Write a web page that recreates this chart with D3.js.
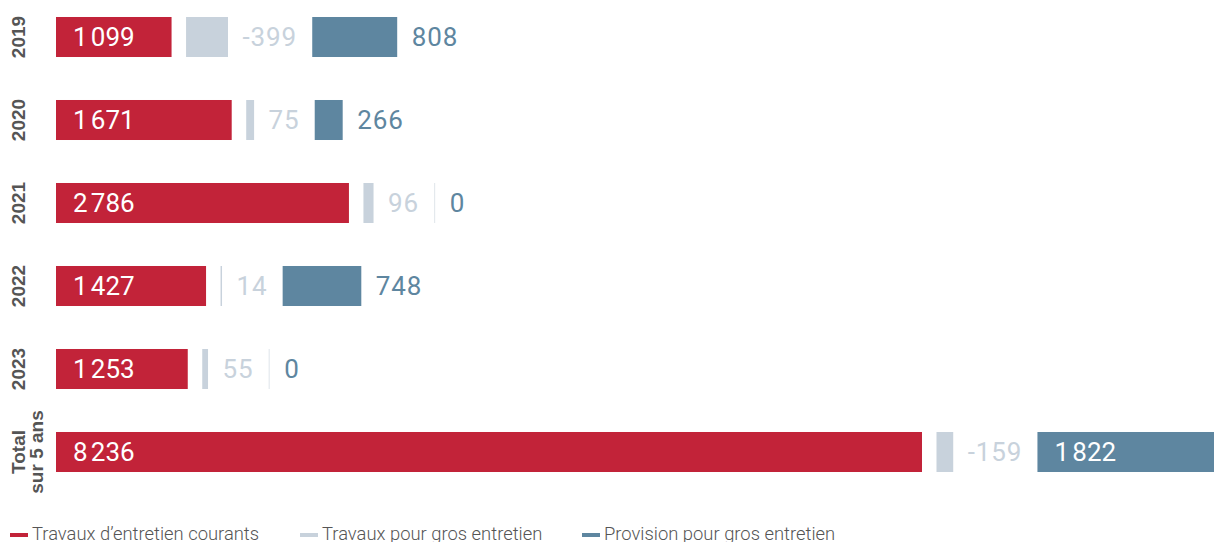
<!DOCTYPE html>
<html><head><meta charset="utf-8">
<script src="https://cdn.jsdelivr.net/npm/d3@7"></script>
<style>
html,body{margin:0;padding:0;background:#fff;overflow:hidden;}
svg{display:block;}
</style></head>
<body><svg id="c" width="1214" height="542"></svg>
<script>
const categories = ["2019","2020","2021","2022","2023","Total|sur 5 ans"];
const courants = [1099,1671,2786,1427,1253,8236];
const grosTravaux = [-399,75,96,14,55,-159];
const provision = [808,266,0,748,0,1822];
const seriesNames = ["Travaux d\u2019entretien courants","Travaux pour gros entretien","Provision pour gros entretien"];
const colors = ["#c22339","#c8d2dc","#5e86a0"];
const labelColors = ["#ffffff","#c8d2dc","#5e86a0"];

const W = 1214, H = 542;
const svg = d3.select("#c");
const loc = d3.formatLocale({decimal:",", thousands:"\u202f", grouping:[3], currency:["","€"], minus:"-"});
const fmt = loc.format(",d");

const x0 = 56;
const x = d3.scaleLinear().domain([0, 8236]).range([0, 866]);
const y = d3.scaleBand().domain(categories).range([-4.5, -4.5 + 6*83]).paddingInner(0.518).paddingOuter(0.259);
const bw = y.bandwidth();
const gap = 14.5;
const gapAfterText = 16;
const valFont = "Roboto, sans-serif";
const valSize = 26;
const ls = 0.9;

function valText(g, xx, cy, txt, col) {
  return g.append("text").attr("x", xx).attr("y", cy).attr("dy", "0.36em")
    .attr("font-family", valFont).attr("font-size", valSize).attr("letter-spacing", ls)
    .attr("fill", col).text(txt);
}

categories.forEach((c, i) => {
  const g = svg.append("g");
  const yy = y(c), cy = yy + bw/2;
  // red bar
  g.append("rect").attr("x", x0).attr("y", yy).attr("width", x(courants[i])).attr("height", bw).attr("fill", colors[0]);
  valText(g, x0 + 17, cy, fmt(courants[i]), labelColors[0]);
  let cur = x0 + x(courants[i]) + gap;
  // light bar
  const w2 = x(Math.abs(grosTravaux[i]));
  if (w2 > 0) g.append("rect").attr("x", cur).attr("y", yy).attr("width", w2).attr("height", bw).attr("fill", colors[1]);
  else g.append("rect").attr("x", cur).attr("y", yy).attr("width", 1).attr("height", bw).attr("fill", "#dfe5ea");
  cur += Math.max(w2, 1) + gap;
  const t2 = valText(g, cur, cy, fmt(grosTravaux[i]), labelColors[1]);
  cur += t2.node().getComputedTextLength() + gapAfterText - ls;
  // dark bar
  const w3 = x(provision[i]);
  if (w3 > 0) g.append("rect").attr("x", cur).attr("y", yy).attr("width", w3).attr("height", bw).attr("fill", colors[2]);
  else g.append("rect").attr("x", cur).attr("y", yy).attr("width", 1).attr("height", bw).attr("fill", "#dfe5ea");
  const t3 = valText(g, 0, cy, fmt(provision[i]), labelColors[2]);
  const tw = t3.node().getComputedTextLength();
  const outside = cur + Math.max(w3, 1) + gap;
  if (outside + tw > W) {
    t3.attr("x", cur + 17).attr("fill", "#ffffff");
  } else {
    t3.attr("x", outside);
  }
  // category label (rotated)
  const lines = c.split("|");
  const lab = svg.append("text").attr("transform", `translate(25,${cy}) rotate(-90)`)
    .attr("text-anchor", "middle").attr("font-family", "'Liberation Sans', Arial, sans-serif")
    .attr("font-weight", "bold").attr("font-size", 19).attr("fill", "#555");
  lines.forEach((l, k) => lab.append("tspan").attr("x", 0).attr("y", k * 18).text(l));
});

// legend
const legX = [10, 300, 582];
const leg = svg.append("g");
seriesNames.forEach((n, i) => {
  leg.append("rect").attr("x", legX[i]).attr("y", 533).attr("width", 18).attr("height", 4).attr("fill", colors[i]);
  leg.append("text").attr("x", legX[i] + 22).attr("y", 539.5)
    .attr("font-family", "Roboto, sans-serif").attr("font-size", 18.4).attr("font-weight", 300)
    .attr("fill", "#555").text(n);
});
</script>
</body></html>
